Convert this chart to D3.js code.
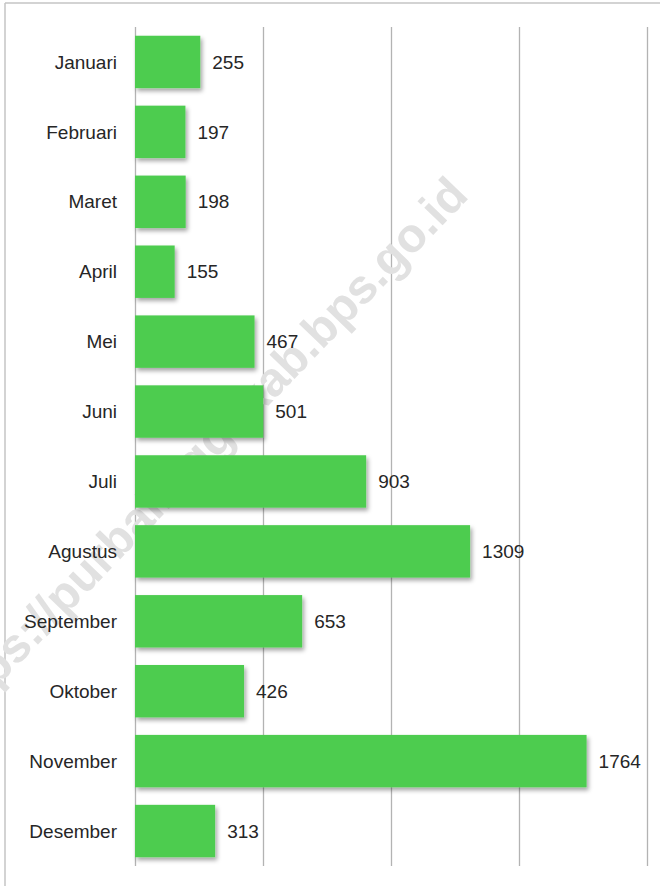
<!DOCTYPE html>
<html>
<head>
  <meta charset="utf-8">
  <script src="https://cdn.jsdelivr.net/npm/d3@7"></script>
  <style>
    body { margin: 0; background: #fff; }
    svg { display: block; }
    text { font-family: "Liberation Sans", Arial, sans-serif; }
  </style>
</head>
<body>
  <div id="chart"></div>
  <script>
    const months = ['Januari', 'Februari', 'Maret', 'April', 'Mei', 'Juni', 'Juli',
      'Agustus', 'September', 'Oktober', 'November', 'Desember'];
    const values = [255, 197, 198, 155, 467, 501, 903, 1309, 653, 426, 1764, 313];
    const gridTicks = [0, 500, 1000, 1500, 2000];
    const watermark = 'https://purbalinggakab.bps.go.id';

    const width = 660;
    const height = 886;
    const plotTop = 27, plotBottom = 866, plotLeft = 135, plotRight = 647;

    const svg = d3.select('#chart').append('svg')
      .attr('width', width)
      .attr('height', height);

    // drop shadow for the bars
    const filter = svg.append('defs').append('filter')
      .attr('id', 'shadow')
      .attr('x', '-10%').attr('y', '-20%')
      .attr('width', '130%').attr('height', '150%');
    filter.append('feDropShadow')
      .attr('dx', 2).attr('dy', 3)
      .attr('stdDeviation', 2)
      .attr('flood-color', '#000')
      .attr('flood-opacity', 0.35);

    // frame (top and left edges only)
    svg.append('line')
      .attr('x1', 5).attr('x2', width).attr('y1', 3).attr('y2', 3)
      .attr('stroke', '#c4c4c4').attr('stroke-width', 1.5);
    svg.append('line')
      .attr('x1', 5).attr('x2', 5).attr('y1', 3).attr('y2', height)
      .attr('stroke', '#c4c4c4').attr('stroke-width', 1.5);

    const x = d3.scaleLinear().domain([0, 2000]).range([plotLeft, plotRight]);
    const y = d3.scaleBand().domain(months).range([plotTop, plotBottom])
      .paddingInner(0.25).paddingOuter(0.125);

    // gridlines
    const grid = svg.append('g')
      .attr('transform', `translate(0,${plotBottom})`)
      .call(d3.axisBottom(x).tickValues(gridTicks).tickSize(-(plotBottom - plotTop)).tickFormat(''));
    grid.select('.domain').remove();
    grid.selectAll('.tick line').attr('stroke', '#b3b3b3').attr('stroke-width', 1.3);

    // watermark (sits behind the bars)
    svg.append('text')
      .attr('transform', 'translate(470,197) rotate(-46)')
      .attr('text-anchor', 'end')
      .attr('font-size', 48)
      .attr('font-weight', 'bold')
      .attr('fill', '#e1e1e1')
      .text(watermark);

    // bars
    svg.append('g').selectAll('rect')
      .data(values)
      .join('rect')
      .attr('x', x(0))
      .attr('y', (d, i) => y(months[i]))
      .attr('width', d => x(d) - x(0))
      .attr('height', y.bandwidth())
      .attr('fill', '#4ecc50')
      .attr('filter', 'url(#shadow)');

    // category labels
    svg.append('g').selectAll('text')
      .data(months)
      .join('text')
      .attr('x', plotLeft - 18)
      .attr('y', d => y(d) + y.bandwidth() / 2)
      .attr('dy', '0.35em')
      .attr('text-anchor', 'end')
      .attr('font-size', 19)
      .attr('fill', '#262626')
      .text(d => d);

    // value labels
    svg.append('g').selectAll('text')
      .data(values)
      .join('text')
      .attr('x', d => x(d) + 12)
      .attr('y', (d, i) => y(months[i]) + y.bandwidth() / 2)
      .attr('dy', '0.35em')
      .attr('font-size', 19)
      .attr('fill', '#262626')
      .text(d => d);
  </script>
</body>
</html>
